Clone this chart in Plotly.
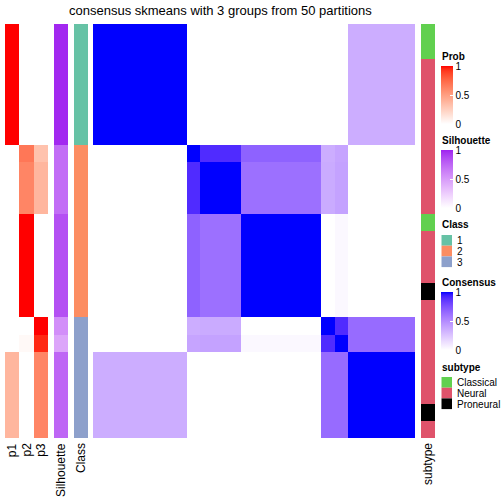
import numpy as np
import plotly.graph_objects as go

# ---------------- data ----------------
# block structure of the 24 samples (rows == columns, same order)
segment_sizes = [7, 1, 3, 6, 1, 1, 5]
# consensus values between segments (symmetric)
consensus_blocks = [
    [1.00, 0.00, 0.00, 0.00, 0.00, 0.00, 0.35],
    [0.00, 1.00, 0.90, 0.68, 0.35, 0.39, 0.00],
    [0.00, 0.90, 1.00, 0.62, 0.36, 0.40, 0.00],
    [0.00, 0.68, 0.62, 1.00, 0.00, 0.03, 0.00],
    [0.00, 0.35, 0.36, 0.00, 1.00, 0.90, 0.64],
    [0.00, 0.39, 0.40, 0.03, 0.90, 1.00, 0.64],
    [0.35, 0.00, 0.00, 0.00, 0.64, 0.64, 1.00],
]
p1 = [1.0]*7 + [0.0] + [0.0]*3 + [0.0]*6 + [0.0] + [0.0] + [0.38]*5
p2 = [0.0]*7 + [0.68] + [0.62]*3 + [1.0]*6 + [0.0] + [0.03] + [0.0]*5
p3 = [0.0]*7 + [0.32] + [0.38]*3 + [0.0]*6 + [1.0] + [0.95] + [0.62]*5
silhouette = [0.98]*7 + [0.72] + [0.72]*3 + [0.84]*6 + [0.56] + [0.45] + [0.75]*5
class_labels = ["1", "2", "3"]
sample_class = [1]*7 + [2] + [2]*3 + [2]*6 + [3] + [3] + [3]*5
subtype_labels = ["Classical", "Neural", "Proneural"]
sample_subtype = (["Classical"]*2 + ["Neural"]*9 + ["Classical"] + ["Neural"]*3 +
                  ["Proneural"] + ["Neural"]*6 + ["Proneural"] + ["Neural"])
prob_labels = ["p1", "p2", "p3"]
title_text = "consensus skmeans with 3 groups from 50 partitions"

# ---------------- styles ----------------
W = H = 504
FONT = "Liberation Sans, Arial, Helvetica, sans-serif"
class_colors = ["#66C2A5", "#FC8D62", "#8DA0CB"]
subtype_colors = ["#61D04F", "#DF536B", "#000000"]


def srgb_to_lab(hexc):
    c = np.array([int(hexc[i:i + 2], 16) for i in (1, 3, 5)]) / 255.0
    lin = np.where(c <= 0.04045, c / 12.92, ((c + 0.055) / 1.055) ** 2.4)
    M = np.array([[0.4124, 0.3576, 0.1805], [0.2126, 0.7152, 0.0722], [0.0193, 0.1192, 0.9505]])
    xyz = M @ lin / np.array([0.95047, 1.0, 1.08883])
    f = np.where(xyz > 0.008856, np.cbrt(xyz), 7.787 * xyz + 16 / 116)
    return np.array([116 * f[1] - 16, 500 * (f[0] - f[1]), 200 * (f[1] - f[2])])


def lab_to_hex(lab):
    L, a, b = lab
    fy = (L + 16) / 116
    fx = fy + a / 500
    fz = fy - b / 200
    f = np.array([fx, fy, fz])
    xyz = np.where(f ** 3 > 0.008856, f ** 3, (f - 16 / 116) / 7.787) * np.array([0.95047, 1.0, 1.08883])
    Mi = np.array([[3.2406, -1.5372, -0.4986], [-0.9689, 1.8758, 0.0415], [0.0557, -0.2040, 1.0570]])
    lin = np.clip(Mi @ xyz, 0, 1)
    c = np.where(lin <= 0.0031308, 12.92 * lin, 1.055 * lin ** (1 / 2.4) - 0.055)
    c = np.clip(np.round(c * 255), 0, 255).astype(int)
    return "#%02X%02X%02X" % tuple(c)


def lab_scale(c0, c1, n=21):
    l0, l1 = srgb_to_lab(c0), srgb_to_lab(c1)
    return [[t, lab_to_hex(l0 + (l1 - l0) * t)] for t in np.linspace(0, 1, n)]


def px(x):
    return x / W


def py(y):
    return 1 - y / H


def step_scale(colors):
    n = len(colors)
    out = []
    for i, c in enumerate(colors):
        out.append([i / n, c])
        out.append([(i + 1) / n, c])
    return out


# expand consensus blocks
idx = np.repeat(np.arange(len(segment_sizes)), segment_sizes)
consensus = np.array(consensus_blocks)[np.ix_(idx, idx)]
N = len(idx)

TOP, BOTTOM = 24, 438
cols = {
    "prob": (5, 48),
    "sil": (54, 68),
    "cls": (74, 88),
    "cons": (93, 415),
    "sub": (421, 435),
}
BAR_LEN = 58

fig = go.Figure()
rows = list(range(N))


def cbar(top, length=BAR_LEN):
    return dict(x=px(441), xanchor="left", y=py(top), yanchor="top",
                len=length, lenmode="pixels", thickness=12, thicknessmode="pixels",
                xpad=0, ypad=0, outlinewidth=0, tickvals=[0, 0.5, 1],
                ticktext=["0", "0.5", "1"], ticks="inside", ticklen=3, tickcolor="white",
                tickwidth=1, tickfont=dict(size=10, family=FONT, color="black"))


prob_z = np.array([p1, p2, p3]).T
fig.add_trace(go.Heatmap(z=prob_z, x=[0, 1, 2], y=rows, xaxis="x", yaxis="y",
                         colorscale=lab_scale("#FFFFFF", "#FF0000"), zmin=0, zmax=1,
                         colorbar=cbar(66), hoverinfo="skip"))
fig.add_trace(go.Heatmap(z=np.array(silhouette)[:, None], x=[0], y=rows, xaxis="x2", yaxis="y",
                         colorscale=lab_scale("#FFFFFF", "#A020F0"), zmin=0, zmax=1,
                         colorbar=cbar(150), hoverinfo="skip"))
fig.add_trace(go.Heatmap(z=(np.array(sample_class) - 1)[:, None], x=[0], y=rows, xaxis="x3", yaxis="y",
                         colorscale=step_scale(class_colors), zmin=-0.5, zmax=len(class_colors) - 0.5,
                         showscale=False, hoverinfo="skip"))
fig.add_trace(go.Heatmap(z=consensus, x=list(range(N)), y=rows, xaxis="x4", yaxis="y",
                         colorscale=lab_scale("#FFFFFF", "#0000FF"), zmin=0, zmax=1,
                         colorbar=cbar(292), hoverinfo="skip"))
sub_idx = np.array([subtype_labels.index(s) for s in sample_subtype])
fig.add_trace(go.Heatmap(z=sub_idx[:, None], x=[0], y=rows, xaxis="x5", yaxis="y",
                         colorscale=step_scale(subtype_colors), zmin=-0.5, zmax=len(subtype_colors) - 0.5,
                         showscale=False, hoverinfo="skip"))

axis_common = dict(visible=False, showgrid=False, zeroline=False, fixedrange=True)
layout = dict(
    width=W, height=H, margin=dict(l=0, r=0, t=0, b=0, autoexpand=False),
    paper_bgcolor="white", plot_bgcolor="white", showlegend=False,
    font=dict(family=FONT, color="black"),
    yaxis=dict(domain=[py(BOTTOM), py(TOP)], range=[N - 0.5, -0.5], **axis_common),
)
for name, key, ncol in [("xaxis", "prob", 3), ("xaxis2", "sil", 1), ("xaxis3", "cls", 1),
                        ("xaxis4", "cons", N), ("xaxis5", "sub", 1)]:
    a, b = cols[key]
    layout[name] = dict(domain=[px(a), px(b)], range=[-0.5, ncol - 0.5], anchor="y", **axis_common)
fig.update_layout(**layout)

annotations = []
shapes = []
# title
annotations.append(dict(text=title_text, x=px(220), y=py(10.5), xref="paper", yref="paper",
                        xanchor="center", yanchor="middle", showarrow=False,
                        font=dict(size=13, family=FONT)))
# bottom labels
for i, lab in enumerate(prob_labels):
    annotations.append(dict(text=lab, x=i, xref="x", y=py(441), yref="paper", textangle=-90,
                            xanchor="center", yanchor="top", showarrow=False,
                            font=dict(size=12, family=FONT)))
for lab, ax in [("Silhouette", "x2"), ("Class", "x3"), ("subtype", "x5")]:
    annotations.append(dict(text=lab, x=0, xref=ax, y=py(441), yref="paper", textangle=-90,
                            xanchor="center", yanchor="top", showarrow=False,
                            font=dict(size=12, family=FONT)))
# legend titles
for lab, yc in [("Prob", 56), ("Silhouette", 140), ("Class", 225), ("Consensus", 282), ("subtype", 367)]:
    annotations.append(dict(text="<b>%s</b>" % lab, x=px(440), y=py(yc), xref="paper", yref="paper",
                            xanchor="left", yanchor="middle", showarrow=False,
                            font=dict(size=10, family=FONT)))
# colorbar left-side white ticks
for top in (66, 150, 292):
    for v in (0, 0.5, 1):
        yy = top + (1 - v) * BAR_LEN
        shapes.append(dict(type="line", xref="paper", yref="paper", x0=px(441), x1=px(444),
                           y0=py(yy), y1=py(yy), line=dict(color="white", width=1)))
# discrete legends
for labels, colors, top in [(class_labels, class_colors, 235), (subtype_labels, subtype_colors, 377)]:
    for i, (lab, c) in enumerate(zip(labels, colors)):
        y0 = top + i * 10.7
        shapes.append(dict(type="rect", xref="paper", yref="paper", x0=px(441.5), x1=px(452),
                           y0=py(y0), y1=py(y0 + 10.7), fillcolor=c, line=dict(width=0)))
        annotations.append(dict(text=lab, x=px(454.5), y=py(y0 + 5.6), xref="paper", yref="paper",
                                xanchor="left", yanchor="middle", showarrow=False,
                                font=dict(size=10, family=FONT)))
fig.update_layout(annotations=annotations, shapes=shapes)

fig.write_html("out.html", config={"displayModeBar": False, "staticPlot": True},
               post_script="document.body.style.margin='0';document.body.style.padding='0';"
                           "document.body.style.overflow='hidden';")
